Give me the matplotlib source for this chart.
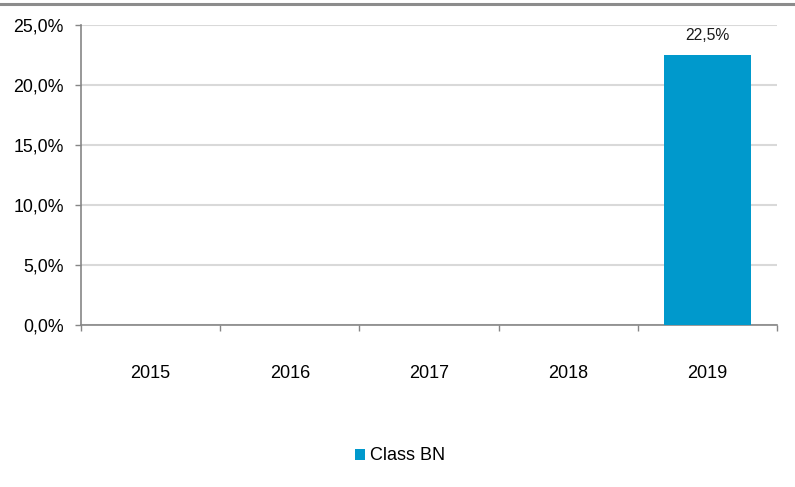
import numpy as np
import matplotlib.pyplot as plt
from matplotlib.lines import Line2D
from matplotlib.patches import Patch

plt.rcParams['font.family'] = ['Liberation Sans', 'DejaVu Sans']

# data
years = ['2015', '2016', '2017', '2018', '2019']
class_bn = [0.0, 0.0, 0.0, 0.0, 22.5]
y_ticks = [0, 5, 10, 15, 20, 25]

bar_color = '#0099cc'
grid_color = '#d9d9d9'
axis_color = '#868686'

fig = plt.figure(figsize=(7.95, 4.87), dpi=100)
ax = fig.add_axes([0.1019, 0.3326, 0.8755, 0.6160])

x = np.arange(len(years))
ax.bar(x, class_bn, width=0.63, color=bar_color, zorder=3)

# value label only where there is a value
for xi, v in zip(x, class_bn):
    if v > 0:
        ax.text(xi, v + 1.0, f"{v:.1f}%".replace('.', ','), ha='center', va='bottom',
                fontsize=11.3, color='#1a1a1a')

ax.set_xlim(-0.5, len(years) - 0.5)
ax.set_ylim(0, 25)
ax.set_yticks(y_ticks)
ax.set_yticklabels([f"{t:.1f}%".replace('.', ',') for t in y_ticks], fontsize=12.8)

ax.set_xticks(x)
ax.set_xticklabels(years, fontsize=13)
ax.tick_params(axis='x', length=0, pad=29)
ax.set_xticks(np.arange(len(years) + 1) - 0.5, minor=True)
ax.tick_params(axis='x', which='minor', length=4, color=axis_color, width=1)
ax.tick_params(axis='y', length=4, color=axis_color, width=1, pad=8.5)

ax.yaxis.grid(True, color=grid_color, linewidth=1.5, zorder=0)
ax.set_axisbelow(True)

for s in ['top', 'right']:
    ax.spines[s].set_visible(False)
for s in ['left', 'bottom']:
    ax.spines[s].set_color(axis_color)
    ax.spines[s].set_linewidth(1.2)

# top separator line
fig.add_artist(Line2D([0, 1], [1 - 4 / 487, 1 - 4 / 487], color='#8c8c8c', linewidth=2.2,
                      transform=fig.transFigure))

handle = Patch(facecolor=bar_color, edgecolor='none')
fig.legend([handle], ['Class BN'], loc='center', bbox_to_anchor=(0.503, 1 - 456 / 487),
           frameon=False, fontsize=13, handlelength=0.55, handleheight=0.55,
           handletextpad=0.25)

fig.savefig('out.png', dpi=100)
